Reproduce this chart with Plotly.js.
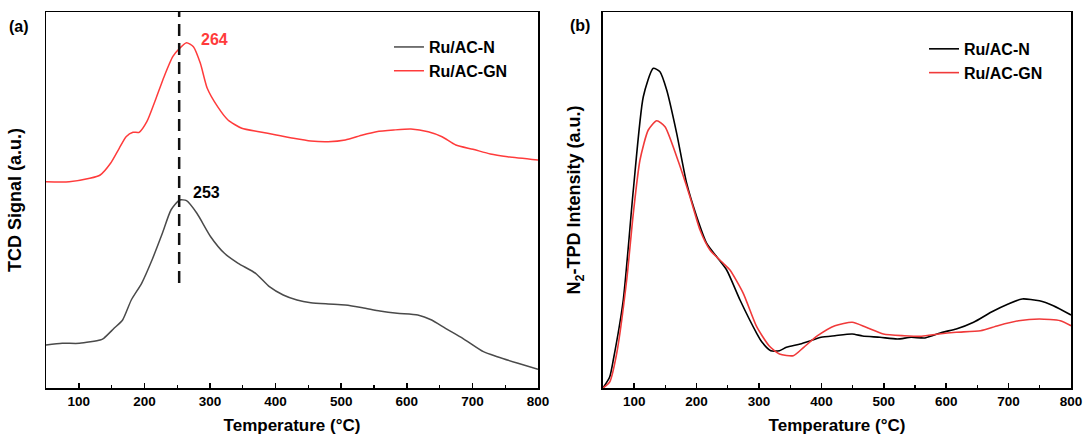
<!DOCTYPE html>
<html>
<head>
<meta charset="utf-8">
<script src="https://cdn.plot.ly/plotly-3.0.1.min.js"></script>
<style>html,body{margin:0;padding:0;background:#fff;}#chart{width:1083px;height:442px;}</style>
</head>
<body>
<div id="chart"></div>
<script>
// (a) TCD (H2-TPR) signal, arbitrary units
const tprT_N = [50,74.7,101,132.6,138,153.7,166.8,180,195.8,211.6,227.4,240.5,253.7,264.2,280,301,322,343,369.5,390.5,411.6,432.6,453.7,480,506,532.6,558.9,585.3,616.8,637.9,659,685.3,716.8,737.9,769.5,800];
const tprY_N = [43,44.7,44.7,48,49.7,59.7,68,88,104.7,128,154.7,178,188,187.3,174.7,151.3,134.7,124.7,114.7,101.3,93,88,85.3,84,83,80.3,77,74.7,73,68,59.7,49.7,36.3,31.3,24.7,18.7];
const tprT_GN = [50,85.3,116.8,132.6,148.4,161.6,172.1,182.6,192,203.7,216.8,230,243.2,253.7,264.2,274.7,285.3,295.8,311.6,327.4,348.4,374.7,401,427.4,453.7,480,506.3,532.6,553.7,580,606.3,632.6,653.7,674.7,701,727.4,753.7,800];
const tprY_GN = [206.3,206.3,209.7,213,224.7,239.7,251.3,255.7,255.7,266.3,288,311.3,331.3,339.7,345.3,341.3,324.7,299.7,281.3,268,259.7,256.3,253,249.7,247,246.3,248,253,256.3,258,259,256.3,251.3,243,238.7,234,231.3,228];

// (b) N2-TPD intensity, arbitrary units
const tpdT_N = [50,60.7,66.5,82.5,98.6,114.6,130.6,141.3,152.1,168.1,184.1,200.2,216.2,232.2,248.2,269.6,296.3,305,318.9,332.8,343.9,366.1,382.8,399.4,421.7,449.4,466.1,493.9,521.7,543.9,566.1,593.9,616.1,643.9,671.7,699.4,721.7,749.4,771.7,800];
const tpdY_N = [0,11,28,88,198,291.3,319.7,316.3,298,254.7,204.7,171.3,144.7,131.3,118,88,54.7,45.7,37.3,37.3,40.7,44,47.3,50.7,52.3,54,52,50.7,49,50.7,50,55.7,59,65.7,75.7,84,89,87.3,82.3,73];
const tpdT_GN = [50,60.7,72,88,98.6,109.3,122.6,136.1,149.4,168.1,189.4,205.5,221.5,242.8,253.5,274.8,296.3,316.1,332.8,355,371.7,393.9,421.7,449.4,471.7,499.4,532.8,560.6,588.3,616.1,655,682.8,716.1,749.4,782.8,800];
const tpdY_GN = [0,6,34.7,108,174.7,228,258,267.3,261.3,231.3,191.3,158,138,124.7,118,94.7,61.3,42.3,34,32.3,40.7,52.3,62.3,65.7,60.7,54,52.3,51.7,54,55.7,57.3,62.3,67.3,69,67.3,62.3];

const seriesNames = ['Ru/AC-N','Ru/AC-GN'];
const tickVals = [100,200,300,400,500,600,700,800];
const peakN = 253, peakGN = 264;

const FONT = 'Arial, "Liberation Sans", sans-serif';
const bold = (size, color) => ({family: FONT, size: size, color: color || '#000', weight: 'bold'});

const traces = [
  {x: tprT_N, y: tprY_N, name: seriesNames[0], mode: 'lines', line: {color: '#4a4a4a', width: 1.5, shape: 'spline', smoothing: 0.6}, xaxis: 'x', yaxis: 'y', legend: 'legend'},
  {x: tprT_GN, y: tprY_GN, name: seriesNames[1], mode: 'lines', line: {color: '#ff3b3b', width: 1.5, shape: 'spline', smoothing: 0.6}, xaxis: 'x', yaxis: 'y', legend: 'legend'},
  {x: tpdT_N, y: tpdY_N, name: seriesNames[0], mode: 'lines', line: {color: '#000000', width: 1.6, shape: 'spline', smoothing: 0.6}, xaxis: 'x2', yaxis: 'y2', legend: 'legend2'},
  {x: tpdT_GN, y: tpdY_GN, name: seriesNames[1], mode: 'lines', line: {color: '#f03a3a', width: 1.6, shape: 'spline', smoothing: 0.6}, xaxis: 'x2', yaxis: 'y2', legend: 'legend2'}
];

const xaxisBase = {
  range: [50, 800], tickvals: tickVals, ticks: 'inside', ticklen: 5, tickwidth: 1.5, tickcolor: '#000',
  minor: {dtick: 50, tick0: 50, ticks: 'inside', ticklen: 3, tickwidth: 1.2, tickcolor: '#000'},
  showline: true, linecolor: '#000', linewidth: 1.5, mirror: true, showgrid: false, zeroline: false,
  tickfont: bold(13.5), title: {text: 'Temperature (°C)', font: bold(17), standoff: 11}
};
const yaxisBase = {
  range: [0, 376], showticklabels: false, ticks: '', showline: true, linecolor: '#000', linewidth: 1.5,
  mirror: true, showgrid: false, zeroline: false
};

const layout = {
  width: 1083, height: 442,
  margin: {l: 46, r: 12, t: 12, b: 54},
  paper_bgcolor: '#fff', plot_bgcolor: '#fff',
  showlegend: true,
  xaxis: Object.assign({}, xaxisBase, {domain: [0, 0.48], anchor: 'y'}),
  yaxis: Object.assign({}, yaxisBase, {domain: [0, 1], anchor: 'x', title: {text: 'TCD Signal (a.u.)', font: bold(18), standoff: 18}}),
  xaxis2: Object.assign({}, xaxisBase, {domain: [0.5434, 1], anchor: 'y2'}),
  yaxis2: Object.assign({}, yaxisBase, {domain: [0, 1], anchor: 'x2', title: {text: 'N<sub>2</sub>-TPD Intensity (a.u.)', font: bold(18), standoff: 16}}),
  legend: {x: 0.3346, y: 0.952, xanchor: 'left', yanchor: 'top', font: bold(16), bgcolor: 'rgba(0,0,0,0)', tracegroupgap: 0, itemwidth: 30},
  legend2: {x: 0.8566, y: 0.947, xanchor: 'left', yanchor: 'top', font: bold(16), bgcolor: 'rgba(0,0,0,0)', tracegroupgap: 0, itemwidth: 30},
  shapes: [
    {type: 'line', xref: 'x', yref: 'y', x0: peakN, x1: peakN, y0: 105, y1: 376, line: {color: '#111', width: 2.5, dash: '12px,7px'}}
  ],
  annotations: [
    {xref: 'x', yref: 'y', x: 306.9, y: 349, text: String(peakGN), showarrow: false, font: bold(16, '#ff3b3b')},
    {xref: 'x', yref: 'y', x: 295.4, y: 195.5, text: String(peakN), showarrow: false, font: bold(16, '#000')},
    {xref: 'paper', yref: 'paper', x: -0.0259, y: 0.961, xanchor: 'center', yanchor: 'middle', text: '(a)', showarrow: false, font: bold(16)},
    {xref: 'paper', yref: 'paper', x: 0.521, y: 0.963, xanchor: 'center', yanchor: 'middle', text: '(b)', showarrow: false, font: bold(16)}
  ]
};

Plotly.newPlot('chart', traces, layout, {displayModeBar: false, staticPlot: true});
</script>
</body>
</html>
